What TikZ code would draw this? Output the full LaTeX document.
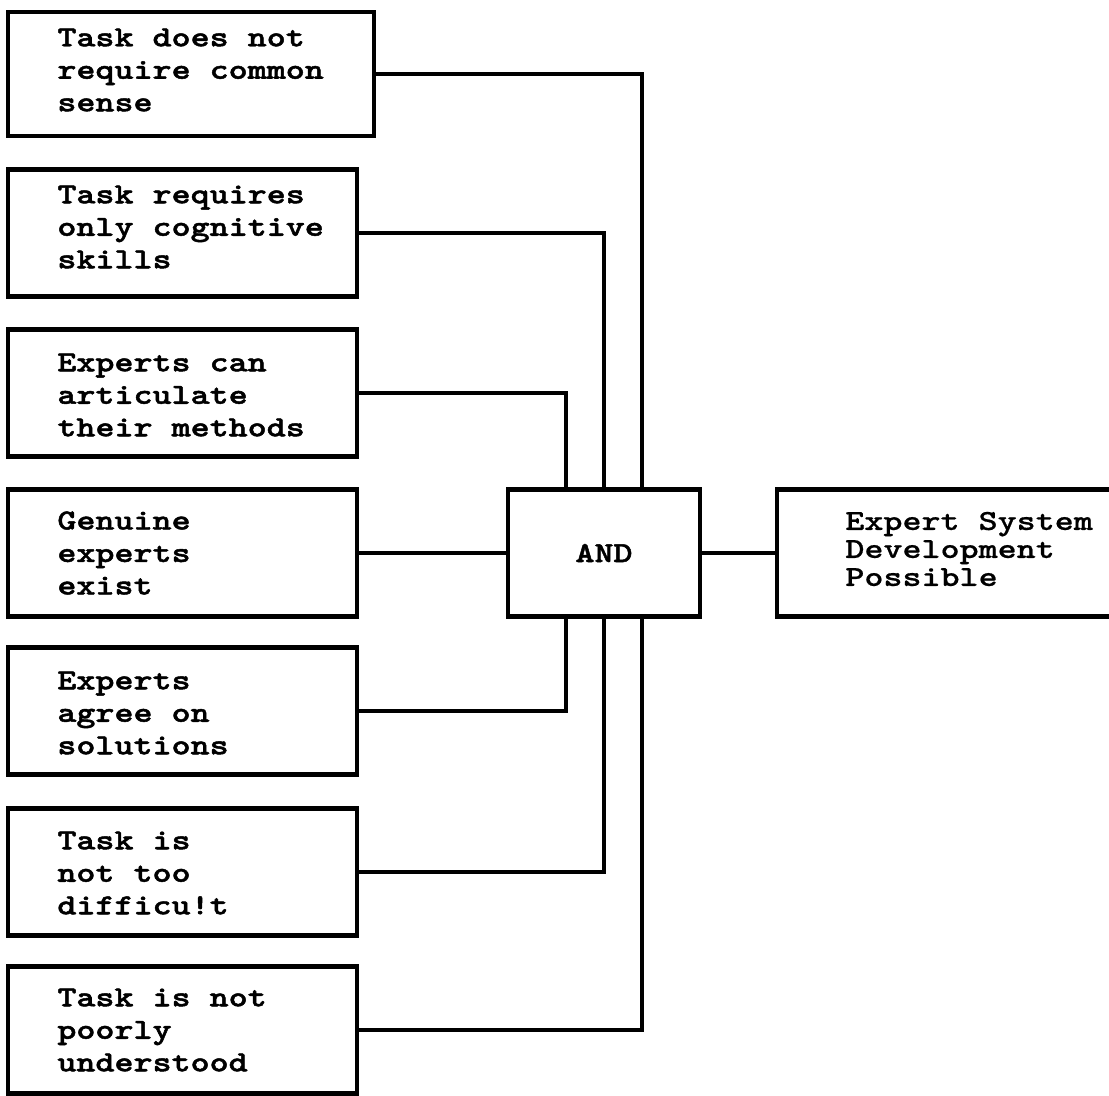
\documentclass[tikz,border=0pt]{standalone}
\usepackage{fontspec}
% heavy slab-serif typewriter face, widened to a 12-pitch look
\newfontfamily\typewriter{lmmonolt10-bold.otf}[FakeStretch=1.25, FakeBold=1.6]
\newfontfamily\typewriterlight{lmmonolt10-bold.otf}[FakeStretch=1.25, FakeBold=0.6]
\usetikzlibrary{calc}
\begin{document}
\begin{tikzpicture}[x=0.5pt,y=-0.5pt,
  box/.style={draw, line width=2.2pt, rectangle, inner sep=0pt},
  leftbox/.style={box, minimum width=174.5pt, minimum height=63.5pt},
  boxtext/.style={anchor=west, align=left, inner sep=0pt,
    font=\typewriter\fontsize{14.5}{16.25}\selectfont},
  wire/.style={line width=2pt}]
\useasboundingbox (0,0) rectangle (1109,1096);

% conditions on the left
\node[leftbox, minimum width=183pt, minimum height=62pt] (b1) at (191,74) {};
\node[boxtext] (t1) at (57,70) {Task does not\\require common\\sense};
\node[leftbox] (b2) at (182.5,233) {};
\node[boxtext] (t2) at (57,227) {Task requires\\only cognitive\\skills};
\node[leftbox] (b3) at (182.5,393) {};
\node[boxtext] (t3) at (57,395) {Experts can\\articulate\\their methods};
\node[leftbox] (b4) at (182.5,553) {};
\node[boxtext] (t4) at (57,553) {Genuine\\experts\\exist};
\node[leftbox] (b5) at (182.5,711) {};
\node[boxtext] (t5) at (57,713) {Experts\\agree on\\solutions};
\node[leftbox] (b6) at (182.5,872) {};
\node[boxtext] (t6) at (57,873) {Task is\\not too\\difficu!t};
\node[leftbox] (b7) at (182.5,1030) {};
\node[boxtext] (t7) at (57,1030) {Task is not\\poorly\\understood};

% the AND gate and the result
\node[box, minimum width=96pt, minimum height=63.5pt,
  font=\typewriter\fontsize{14.5}{16.25}\selectfont] (and) at (604,553) {AND};
\node[box, minimum width=181pt, minimum height=63.5pt] (res) at (958,553) {};
\node[boxtext, font=\typewriterlight\fontsize{14.5}{14}\selectfont] (tr) at (845,549)
  {Expert System\\Development\\Possible};

% inputs enter the gate from above and below
\coordinate (n1) at ($(and.north)+(38,0)$);
\coordinate (n2) at (and.north);
\coordinate (n3) at ($(and.north)+(-38,0)$);
\coordinate (s3) at ($(and.south)+(-38,0)$);
\coordinate (s2) at (and.south);
\coordinate (s1) at ($(and.south)+(38,0)$);

\draw[wire] (b1.east) -| (n1);
\draw[wire] (b2.east) -| (n2);
\draw[wire] (b3.east) -| (n3);
\draw[wire] (b4.east) -- (and.west);
\draw[wire] (b5.east) -| (s3);
\draw[wire] (b6.east) -| (s2);
\draw[wire] (b7.east) -| (s1);
\draw[wire] (and.east) -- (res.west);
\end{tikzpicture}
\end{document}
